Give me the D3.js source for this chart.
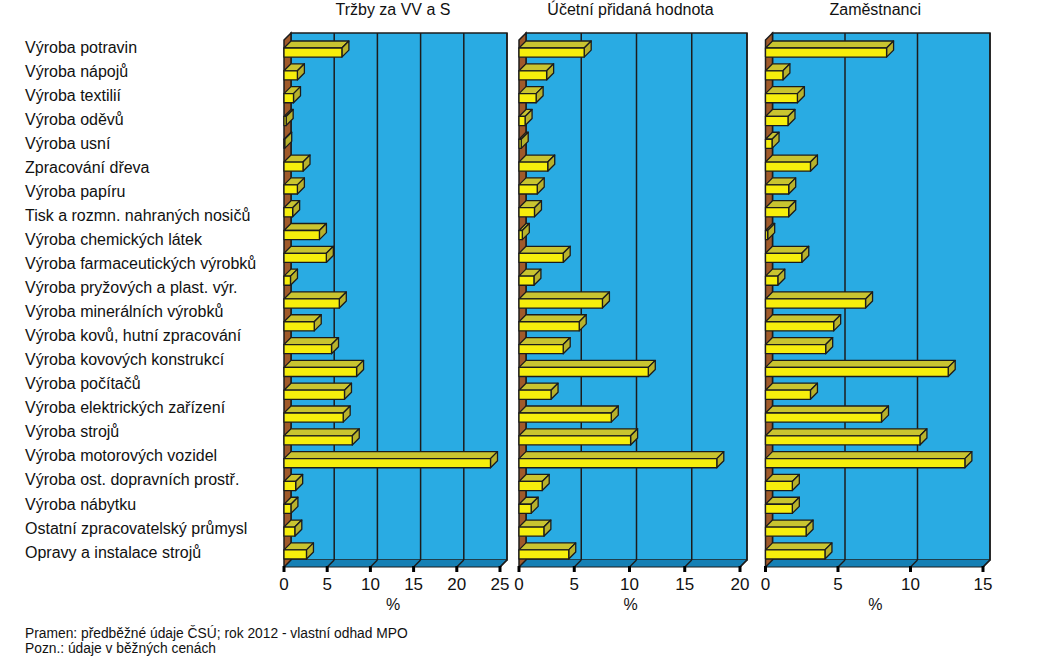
<!DOCTYPE html>
<html>
<head>
<meta charset="utf-8">
<script src="https://cdn.jsdelivr.net/npm/d3@7"></script>
<style>
  html, body { margin: 0; padding: 0; background: #fff; }
  svg { display: block; font-family: "Liberation Sans", Arial, sans-serif; }
</style>
</head>
<body>
<svg id="chart" width="1047" height="659"></svg>
<script>
// ---- data ----
// bars: 23 CZ-NACE divisions (10..33 without 12); the picture shows 22 row labels
const sectorCodes = ["10","11","13","14","15","16","17","18","19","20","21","22","23","24","25","26","27","28","29","30","31","32","33"];
const rowLabels = [
  "Výroba potravin", "Výroba nápojů", "Výroba textilií", "Výroba oděvů", "Výroba usní",
  "Zpracování dřeva", "Výroba papíru", "Tisk a rozmn. nahraných nosičů", "Výroba chemických látek",
  "Výroba farmaceutických výrobků", "Výroba pryžových a plast. výr.", "Výroba minerálních výrobků",
  "Výroba kovů, hutní zpracování", "Výroba kovových konstrukcí", "Výroba počítačů",
  "Výroba elektrických zařízení", "Výroba strojů", "Výroba motorových vozidel",
  "Výroba ost. dopravních prostř.", "Výroba nábytku", "Ostatní zpracovatelský průmysl",
  "Opravy a instalace strojů"
];
const panelTitles = ["Tržby za VV a S", "Účetní přidaná hodnota", "Zaměstnanci"];
const trzby =      [6.7, 1.55, 1.1, 0.25, 0.08, 2.2, 1.55, 1.0, 4.1, 4.9, 0.75, 6.4, 3.5, 5.5, 8.4, 7.0, 6.85, 7.9, 23.9, 1.35, 0.8, 1.25, 2.6];
const pridana =    [5.9, 2.5, 1.55, 0.55, 0.2, 2.6, 1.65, 1.4, 0.3, 4.0, 1.35, 7.55, 5.45, 4.0, 11.7, 2.9, 8.35, 10.1, 17.9, 2.1, 1.1, 2.25, 4.5];
const zamestnanci= [8.35, 1.2, 2.2, 1.55, 0.45, 3.1, 1.6, 1.6, 0.15, 2.5, 0.85, 6.9, 4.7, 4.15, 12.6, 3.1, 8.0, 10.65, 13.75, 1.85, 1.85, 2.8, 4.1];
const axisMax = [25, 20, 15];
const tickValues = [[0,5,10,15,20,25],[0,5,10,15,20],[0,5,10,15]];
const unitLabel = "%";
const footnotes = ["Pramen: předběžné údaje ČSÚ; rok 2012 - vlastní odhad MPO", "Pozn.: údaje v běžných cenách"];

// ---- layout ----
const svg = d3.select("#chart");
const topFront = 40, floorFront = 567, dx = 7, dy = 7;
const panelsX = [[284, 500], [519, 740], [765.5, 983]];
const series = [trzby, pridana, zamestnanci];

const C = {
  wall: "#29abe3", floor: "#1580b5", side: "#a05a2a",
  front: "#f6ee0c", top: "#c9c430", right: "#b8b22c", line: "#1c1c1c"
};

const y = d3.scaleBand().domain(sectorCodes).range([topFront, floorFront])
  .paddingInner(0.6).paddingOuter(0.35).align(0.5);

const poly = pts => pts.map(p => p.join(",")).join(" ");

series.forEach((vals, pi) => {
  const [x0, x1] = panelsX[pi];
  const x = d3.scaleLinear().domain([0, axisMax[pi]]).range([x0, x1]);
  const g = svg.append("g");

  // back wall
  g.append("rect").attr("x", x0 + dx).attr("y", topFront - dy)
    .attr("width", x1 - x0).attr("height", floorFront - topFront)
    .attr("fill", C.wall).attr("stroke", C.line).attr("stroke-width", 1.5);
  // floor
  g.append("polygon").attr("points", poly([[x0, floorFront],[x0+dx, floorFront-dy],[x1+dx, floorFront-dy],[x1, floorFront]]))
    .attr("fill", C.floor).attr("stroke", "none");
  // gridlines
  tickValues[pi].forEach(t => {
    if (t === 0) return;
    const xt = x(t);
    g.append("line").attr("x1", xt+dx).attr("x2", xt+dx).attr("y1", topFront-dy).attr("y2", floorFront-dy)
      .attr("stroke", C.line).attr("stroke-width", 1.5);
    g.append("line").attr("x1", xt).attr("x2", xt+dx).attr("y1", floorFront).attr("y2", floorFront-dy)
      .attr("stroke", C.line).attr("stroke-width", 1.5);
  });
  // left wall
  g.append("polygon").attr("points", poly([[x0, topFront],[x0+dx, topFront-dy],[x0+dx, floorFront-dy],[x0, floorFront]]))
    .attr("fill", C.side).attr("stroke", C.line).attr("stroke-width", 1.5);

  // bars
  const bh = y.bandwidth();
  sectorCodes.forEach((c, i) => {
    const v = vals[i];
    const yb = y(c), xe = x(v);
    const bg = g.append("g").attr("stroke", C.line).attr("stroke-width", 1.3).attr("stroke-linejoin", "round");
    bg.append("polygon").attr("points", poly([[x0, yb],[x0+dx, yb-dy],[xe+dx, yb-dy],[xe, yb]])).attr("fill", C.top);
    bg.append("polygon").attr("points", poly([[xe, yb],[xe+dx, yb-dy],[xe+dx, yb+bh-dy],[xe, yb+bh]])).attr("fill", C.right);
    bg.append("rect").attr("x", x0).attr("y", yb).attr("width", Math.max(0, xe - x0)).attr("height", bh).attr("fill", C.front);
  });

  // front axis
  g.append("line").attr("x1", x0).attr("x2", x1).attr("y1", floorFront).attr("y2", floorFront)
    .attr("stroke", C.line).attr("stroke-width", 1.2);
  g.append("line").attr("x1", x1).attr("x2", x1+dx).attr("y1", floorFront).attr("y2", floorFront-dy)
    .attr("stroke", C.line).attr("stroke-width", 1.2);
  tickValues[pi].forEach(t => {
    g.append("line").attr("x1", x(t)).attr("x2", x(t)).attr("y1", floorFront - 1).attr("y2", floorFront + 5)
      .attr("stroke", "#000").attr("stroke-width", 3);
    g.append("text").attr("x", x(t)).attr("y", 590).attr("text-anchor", "middle")
      .attr("font-size", 17).attr("fill", "#111").text(t);
  });
  g.append("text").attr("x", (x0 + x1) / 2 + 1).attr("y", 610).attr("text-anchor", "middle")
    .attr("font-size", 16).attr("fill", "#111").text(unitLabel);
  g.append("text").attr("x", (x0 + x1) / 2 + 1).attr("y", 15).attr("text-anchor", "middle")
    .attr("font-size", 16).attr("fill", "#111").text(panelTitles[pi]);
});

// row labels
const ly = d3.scalePoint().domain(rowLabels).range([47, 552]);
svg.append("g").selectAll("text").data(rowLabels).join("text")
  .attr("x", 25).attr("y", d => ly(d)).attr("dy", "0.35em")
  .attr("font-size", 16).attr("fill", "#111").text(d => d);

// footnotes
svg.append("g").selectAll("text").data(footnotes).join("text")
  .attr("x", 25).attr("y", (d, i) => 638 + i * 15)
  .attr("font-size", 13.8).attr("fill", "#111").text(d => d);
</script>
</body>
</html>
